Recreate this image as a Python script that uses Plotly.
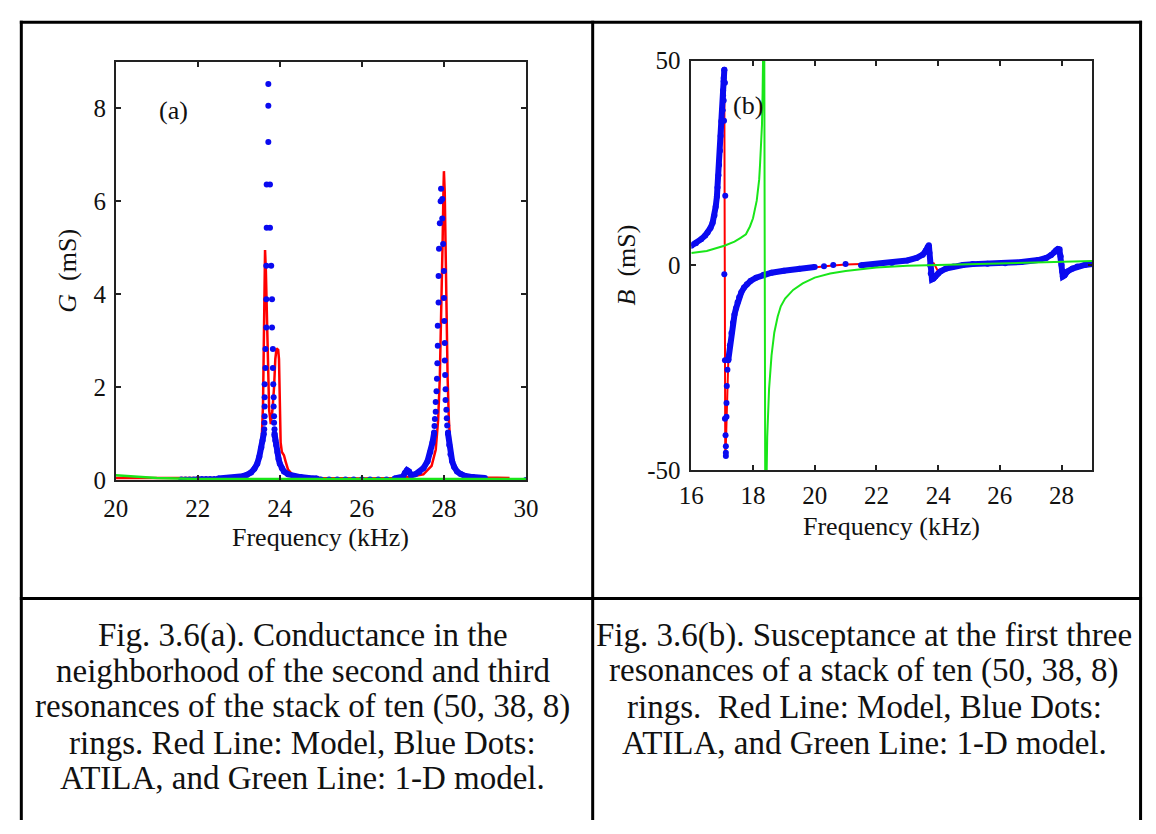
import plotly.graph_objects as go

W, H = 1156, 834
SERIF = "Liberation Serif"
RED = "#ff0000"
BLUE = "#0a0af0"
GREEN = "#19e619"

# ---------------- Panel (a): conductance G (mS) ----------------
a_red_f = [20.0, 20.5, 21.0, 22.0, 22.6, 23.0, 23.2, 23.35, 23.45, 23.52, 23.56, 23.59, 23.61,
           23.625, 23.64, 23.66, 23.68, 23.70, 23.72, 23.74, 23.78, 23.82, 23.86, 23.89, 23.92,
           23.96, 23.98, 24.0, 24.02, 24.05, 24.1, 24.14, 24.2, 24.3, 24.5, 25.0, 26.0, 26.8,
           27.2, 27.5, 27.7, 27.8, 27.86, 27.9, 27.94, 27.97, 27.99, 28.0, 28.02, 28.04, 28.06,
           28.09, 28.12, 28.16, 28.22, 28.3, 28.5, 29.0, 29.6]
a_red_g = [0.04, 0.04, 0.03, 0.03, 0.04, 0.07, 0.10, 0.18, 0.30, 0.55, 0.90, 1.60, 2.80,
           4.00, 4.95, 4.50, 3.60, 3.00, 2.00, 1.50, 1.20, 1.50, 2.00, 2.60, 2.83,
           2.80, 2.60, 1.60, 0.80, 0.60, 0.53, 0.40, 0.22, 0.12, 0.07, 0.04, 0.03, 0.04,
           0.07, 0.12, 0.30, 0.65, 1.30, 2.20, 3.60, 5.20, 6.30, 6.65, 6.20, 5.00, 3.60,
           2.20, 1.30, 0.70, 0.35, 0.20, 0.10, 0.05, 0.04]

a_green_f = [20.0, 20.3, 20.6, 21.0, 21.5, 22.0, 24.0, 26.0, 28.0, 30.0]
a_green_g = [0.10, 0.08, 0.06, 0.04, 0.03, 0.02, 0.02, 0.02, 0.02, 0.02]

# ATILA points (isolated dots)
a_dot_f = [21.6, 21.7, 21.8, 21.9, 22.0, 22.1, 22.2, 22.3, 22.4,
           23.62, 23.625, 23.63, 23.63, 23.63, 23.63, 23.65, 23.65, 23.67, 23.67, 23.67,
           23.68, 23.68, 23.72, 23.72, 23.72,
           23.76, 23.76, 23.79, 23.81, 23.81, 23.83, 23.83, 23.84, 23.85, 23.85, 23.86,
           23.86, 23.87, 23.87,
           25.0, 25.2, 25.4, 25.6, 25.8, 26.0, 26.2, 26.4, 26.6,
           27.76, 27.77, 27.78, 27.80, 27.80, 27.82, 27.83, 27.84, 27.85, 27.85, 27.87,
           27.87, 27.88, 27.90, 27.92, 27.93,
           27.96, 27.96, 27.98, 28.00, 28.00, 28.01, 28.02, 28.02, 28.03, 28.04, 28.04,
           28.06, 28.07, 28.08, 28.10, 30.0]
a_dot_g = [0.01, 0.01, 0.01, 0.01, 0.02, 0.02, 0.02, 0.02, 0.02,
           1.09, 1.23, 1.37, 1.58, 1.78, 2.06, 2.41, 2.82, 3.28, 3.89, 4.61,
           5.43, 6.36, 7.28, 8.06, 8.53,
           6.36, 5.43, 4.61, 3.89, 3.28, 2.82, 2.41, 2.06, 1.78, 1.58, 1.37,
           1.23, 1.09, 0.95,
           0.01, 0.01, 0.01, 0.01, 0.01, 0.01, 0.01, 0.01, 0.01,
           1.02, 1.16, 1.31, 1.47, 1.68, 1.91, 2.18, 2.51, 2.89, 3.32, 3.82,
           4.39, 4.98, 5.53, 6.00, 6.27,
           6.05, 5.63, 5.08, 4.50, 3.92, 3.42, 2.95, 2.57, 2.26, 1.95, 1.72,
           1.51, 1.33, 1.17, 1.02, 0.00]

# ATILA densely sampled flanks (dots merge into a band)
a_flank1_f = [22.5, 22.8, 23.0, 23.1, 23.2, 23.3, 23.38, 23.45, 23.5, 23.55, 23.58, 23.61]
a_flank1_g = [0.03, 0.04, 0.06, 0.08, 0.11, 0.16, 0.24, 0.35, 0.50, 0.70, 0.85, 1.00]
a_flank2_f = [23.87, 23.89, 23.91, 23.94, 23.97, 24.0, 24.05, 24.1, 24.2, 24.35, 24.5, 24.7, 24.9]
a_flank2_g = [1.00, 0.85, 0.75, 0.60, 0.45, 0.35, 0.25, 0.18, 0.12, 0.08, 0.06, 0.04, 0.03]
a_flank3_f = [26.8, 27.0, 27.05, 27.1, 27.15, 27.2, 27.3, 27.4, 27.5, 27.6, 27.67, 27.72, 27.76]
a_flank3_g = [0.03, 0.07, 0.15, 0.21, 0.18, 0.10, 0.12, 0.17, 0.25, 0.40, 0.60, 0.80, 1.00]
a_flank4_f = [28.1, 28.13, 28.16, 28.2, 28.25, 28.32, 28.4, 28.5, 28.7, 29.0]
a_flank4_g = [1.00, 0.75, 0.55, 0.40, 0.28, 0.18, 0.13, 0.09, 0.06, 0.04]

a_xtick_vals = [20, 22, 24, 26, 28, 30]
a_ytick_vals = [0, 2, 4, 6, 8]

# ---------------- Panel (b): susceptance B (mS) ----------------
b_red_f = [16.0, 16.32, 16.53, 16.69, 16.79, 16.85, 16.9, 16.95, 17.01, 17.05, 17.07, 17.075,
           17.08, 17.085, 17.09, 17.10, 17.12, 17.14, 17.16, 17.2, 17.3, 17.4, 17.55, 17.71,
           17.92, 18.34, 19.0, 20.0, 20.5, 21.0, 21.5, 22.5, 23.3, 23.6, 23.68, 23.69, 23.70,
           23.74, 23.8, 23.86, 23.92, 24.0, 24.1, 24.5, 25.1, 26.2, 27.24, 27.66, 27.82,
           27.95, 28.0, 28.03, 28.07, 28.15, 28.3, 28.5, 29.0]
b_red_b = [4.8, 6.4, 8.0, 10.4, 14.3, 19.0, 24.5, 31.6, 37.9, 45.0, 48.0, 30.0,
           10.0, -10.0, -30.0, -47.0, -44.0, -37.0, -30.0, -23.0, -16.5, -12.0, -7.8, -5.4,
           -3.8, -2.3, -1.3, -0.4, -0.1, 0.2, 0.3, 0.6, 1.8, 3.6, 4.6, 2.5, 0.5,
           -1.0, 0.6, 0.5, -0.4, -1.5, -1.3, -0.3, 0.3, 0.5, 1.3, 2.5, 3.7,
           3.8, 0.8, -1.5, -2.5, -2.0, -1.1, -0.3, 0.3]

b_green_f = [16.0, 16.5, 17.07, 17.4, 17.6, 17.77, 17.9, 18.0, 18.12, 18.2, 18.23, 18.27,
             18.29, 18.31, 18.33, 18.36, 18.40, 18.43, 18.46, 18.52, 18.6, 18.69, 18.8,
             18.9, 19.04, 19.3, 19.61, 20.0, 20.5, 21.0, 21.5, 22.0, 23.0, 24.0, 25.0,
             26.0, 27.0, 28.0, 29.0]
b_green_b = [3.0, 3.5, 4.8, 5.8, 6.7, 7.6, 9.5, 11.5, 15.8, 21.0, 25.0, 30.0,
             34.3, 42.0, 50.0, 70.0, -70.0, -50.0, -42.0, -30.2, -22.0, -16.4, -12.5,
             -10.0, -8.1, -6.0, -4.4, -3.0, -2.0, -1.4, -0.9, -0.5, -0.1, 0.1, 0.3,
             0.5, 0.7, 0.9, 1.05]

# ATILA isolated dots
b_dot_f = [17.07, 17.05, 17.09, 17.03, 17.05, 17.01, 17.06, 16.98, 17.10, 17.07,
           17.12, 17.12, 17.12, 17.11, 17.09, 17.14, 17.14, 17.15, 17.17, 17.09, 17.2,
           20.3, 20.6, 21.0]
b_dot_b = [47.8, 45.8, 44.6, 42.7, 40.3, 37.9, 35.3, 35.3, 17.0, -2.2,
           -46.6, -45.8, -44.2, -41.5, -37.5, -37.0, -33.6, -29.5, -25.5, -23.2, -23.2,
           -0.2, 0.1, 0.35]

# ATILA densely sampled branches
b_branch1_f = [16.0, 16.15, 16.32, 16.45, 16.53, 16.62, 16.69, 16.75, 16.79, 16.83, 16.85,
               16.88, 16.9, 16.93, 16.95, 16.98, 17.01, 17.03, 17.05, 17.07]
b_branch1_b = [4.8, 5.4, 6.4, 7.3, 8.0, 9.1, 10.4, 12.2, 14.3, 16.8, 19.0,
               22.0, 24.5, 28.0, 31.6, 35.0, 37.9, 41.5, 45.0, 47.8]
b_branch2_f = [17.2, 17.25, 17.3, 17.35, 17.4, 17.45, 17.5, 17.55, 17.62, 17.71, 17.8, 17.92,
               18.1, 18.34, 18.6, 19.0, 19.5, 20.0]
b_branch2_b = [-23.0, -19.5, -16.5, -14.0, -12.0, -10.5, -9.0, -7.8, -6.6, -5.4, -4.6, -3.8,
               -3.0, -2.3, -1.8, -1.3, -0.8, -0.4]
b_branch3_f = [21.5, 22.0, 22.5, 23.0, 23.3, 23.5, 23.6, 23.66, 23.7, 23.72, 23.74, 23.76,
               23.8, 23.85, 23.91, 24.0, 24.07, 24.25, 24.49, 24.8, 25.12, 25.6, 26.17,
               26.7, 27.24, 27.5, 27.66, 27.76, 27.82, 27.88, 27.93, 27.97, 28.0, 28.02,
               28.04, 28.1, 28.19, 28.35, 28.51, 28.75, 29.0]
b_branch3_b = [0.0, 0.3, 0.6, 1.2, 1.8, 2.6, 3.6, 4.5, 4.9, 3.0, 0.0, -2.0,
               -3.4, -3.2, -2.7, -2.0, -1.5, -0.8, -0.3, 0.1, 0.3, 0.4, 0.5,
               0.8, 1.3, 1.8, 2.5, 3.2, 3.7, 4.0, 3.9, 2.2, 0.1, -1.5,
               -2.7, -2.4, -1.5, -0.8, -0.3, 0.1, 0.3]

b_xtick_vals = [16, 18, 20, 22, 24, 26, 28]
b_ytick_vals = [-50, 0, 50]
b_ytick_text = ["-50", "0", "50"]

caption_a = ["Fig. 3.6(a). Conductance in the",
             "neighborhood of the second and third",
             "resonances of the stack of ten (50, 38, 8)",
             "rings. Red Line: Model, Blue Dots:",
             "ATILA, and Green Line: 1-D model."]
caption_b = ["Fig. 3.6(b). Susceptance at the first three",
             "resonances of a stack of ten (50, 38, 8)",
             "rings.  Red Line: Model, Blue Dots:",
             "ATILA, and Green Line: 1-D model."]


def join_segments(segs):
    xs, ys = [], []
    for fx, fy in segs:
        if xs:
            xs.append(None)
            ys.append(None)
        xs.extend(fx)
        ys.extend(fy)
    return xs, ys


def px_x(p):
    return p / W


def px_y(p):
    return 1 - p / H


fig = go.Figure()

# ---- panel (a) traces
fig.add_trace(go.Scatter(x=a_red_f, y=a_red_g, mode="lines", line=dict(color=RED, width=2.5),
                         xaxis="x", yaxis="y", name="Model"))
fx, fy = join_segments([(a_flank1_f, a_flank1_g), (a_flank2_f, a_flank2_g),
                        (a_flank3_f, a_flank3_g), (a_flank4_f, a_flank4_g)])
fig.add_trace(go.Scatter(x=fx, y=fy, mode="lines+markers", line=dict(color=BLUE, width=6),
                         marker=dict(color=BLUE, size=6), xaxis="x", yaxis="y", name="ATILA"))
fig.add_trace(go.Scatter(x=a_dot_f, y=a_dot_g, mode="markers", marker=dict(color=BLUE, size=6),
                         xaxis="x", yaxis="y", name="ATILA"))
fig.add_trace(go.Scatter(x=a_green_f, y=a_green_g, mode="lines", line=dict(color=GREEN, width=2.5),
                         xaxis="x", yaxis="y", name="1-D model"))

# ---- panel (b) traces
fig.add_trace(go.Scatter(x=b_red_f, y=b_red_b, mode="lines", line=dict(color=RED, width=2),
                         xaxis="x2", yaxis="y2", name="Model"))
fx, fy = join_segments([(b_branch1_f, b_branch1_b), (b_branch2_f, b_branch2_b),
                        (b_branch3_f, b_branch3_b)])
fig.add_trace(go.Scatter(x=fx, y=fy, mode="lines+markers", line=dict(color=BLUE, width=6),
                         marker=dict(color=BLUE, size=6), xaxis="x2", yaxis="y2", name="ATILA"))
fig.add_trace(go.Scatter(x=b_dot_f, y=b_dot_b, mode="markers", marker=dict(color=BLUE, size=6),
                         xaxis="x2", yaxis="y2", name="ATILA"))
fig.add_trace(go.Scatter(x=b_green_f, y=b_green_b, mode="lines", line=dict(color=GREEN, width=2),
                         xaxis="x2", yaxis="y2", name="1-D model"))

tickfont = dict(family=SERIF, size=25, color="#111")
axis_common = dict(ticks="inside", ticklen=5, tickwidth=1.5, tickcolor="#222",
                   showline=True, linewidth=1.6, linecolor="#222", mirror="ticks",
                   showgrid=False, zeroline=False, tickfont=tickfont)

fig.update_layout(
    width=W, height=H, margin=dict(l=0, r=0, t=0, b=0),
    paper_bgcolor="white", plot_bgcolor="white", showlegend=False,
    xaxis=dict(domain=[px_x(105), px_x(524.3)], range=[20, 30], tickvals=a_xtick_vals,
               anchor="y", ticklabelstandoff=5, **axis_common),
    yaxis=dict(domain=[px_y(482.5), px_y(50.7)], range=[0, 9], tickvals=a_ytick_vals,
               anchor="x", ticklabelstandoff=3, **axis_common),
    xaxis2=dict(domain=[px_x(693.3), px_x(1103.3)], range=[16, 29], tickvals=b_xtick_vals,
                anchor="y2", ticklabelstandoff=2, **axis_common),
    yaxis2=dict(domain=[px_y(472.3), px_y(49.3)], range=[-50, 50], tickvals=b_ytick_vals,
                ticktext=b_ytick_text, anchor="x2", ticklabelstandoff=4, **axis_common),
)

ann = []
tfont = dict(family=SERIF, size=26, color="#111")
# axis titles
ann.append(dict(text="Frequency (kHz)", x=px_x(314.6), y=px_y(542), xref="paper", yref="paper",
                showarrow=False, font=tfont, xanchor="center", yanchor="middle"))
ann.append(dict(text="Frequency (kHz)", x=px_x(898), y=px_y(531), xref="paper", yref="paper",
                showarrow=False, font=tfont, xanchor="center", yanchor="middle"))
ann.append(dict(text="<i>G</i>  (mS)", x=px_x(55.5), y=px_y(266), xref="paper", yref="paper",
                showarrow=False, font=tfont, textangle=-90, xanchor="center", yanchor="middle"))
ann.append(dict(text="<i>B</i>  (mS)", x=px_x(627), y=px_y(260.5), xref="paper", yref="paper",
                showarrow=False, font=tfont, textangle=-90, xanchor="center", yanchor="middle"))
# panel labels
ann.append(dict(text="(a)", x=21.42, y=7.95, xref="x", yref="y", showarrow=False, font=tfont))
ann.append(dict(text="(b)", x=17.85, y=39.1, xref="x2", yref="y2", showarrow=False, font=tfont))
# captions
cfont = dict(family=SERIF, size=33, color="#111")
for i, line in enumerate(caption_a):
    ann.append(dict(text=line, x=px_x(296), y=px_y(643 + 37 * i), xref="paper", yref="paper",
                    showarrow=False, font=cfont, xanchor="center", yanchor="middle"))
for i, line in enumerate(caption_b):
    ann.append(dict(text=line, x=px_x(870), y=px_y(643 + 37 * i), xref="paper", yref="paper",
                    showarrow=False, font=cfont, xanchor="center", yanchor="middle"))
fig.update_layout(annotations=ann)

# table borders
border = dict(color="black", width=3)
shapes = [
    dict(type="line", xref="paper", yref="paper", x0=px_x(7), x1=px_x(1154), y0=px_y(9.5), y1=px_y(9.5), line=border),
    dict(type="line", xref="paper", yref="paper", x0=px_x(7), x1=px_x(1154), y0=px_y(605), y1=px_y(605), line=border),
    dict(type="line", xref="paper", yref="paper", x0=px_x(8.5), x1=px_x(8.5), y0=px_y(8), y1=0, line=border),
    dict(type="line", xref="paper", yref="paper", x0=px_x(592.5), x1=px_x(592.5), y0=px_y(8), y1=0, line=border),
    dict(type="line", xref="paper", yref="paper", x0=px_x(1152.5), x1=px_x(1152.5), y0=px_y(8), y1=0, line=border),
]
fig.update_layout(shapes=shapes)

fig.write_html("out.html")
